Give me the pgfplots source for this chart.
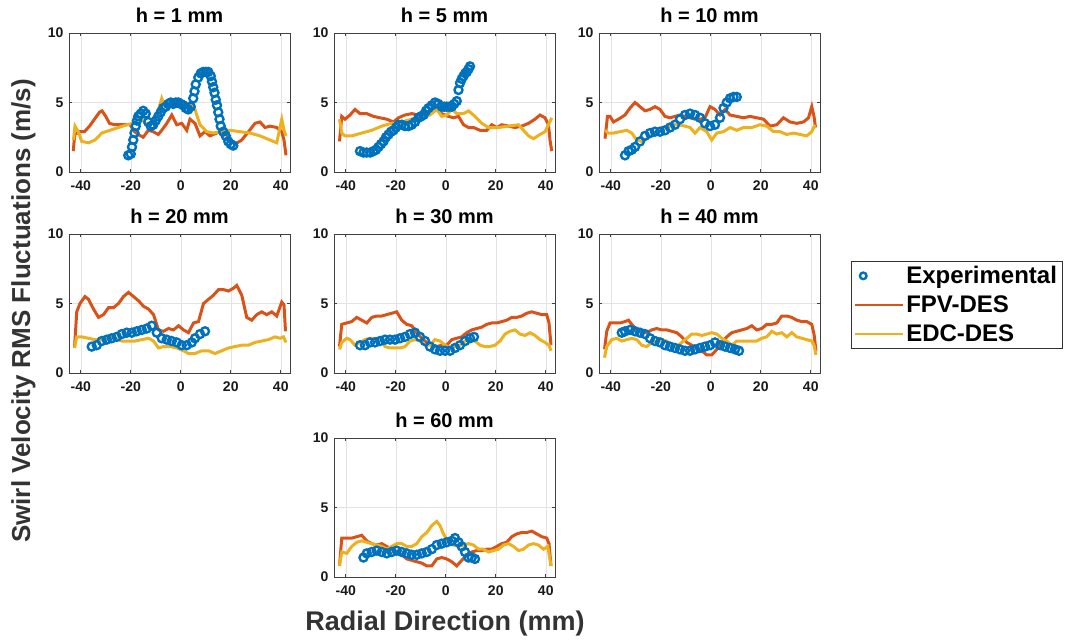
\documentclass[border=0pt]{standalone}
\usepackage{pgfplots}
\pgfplotsset{compat=1.18}
\usepackage{fontspec}
\setmainfont{Liberation Sans}
\definecolor{mblue}{HTML}{0072BD}
\definecolor{morange}{HTML}{D95319}
\definecolor{myellow}{HTML}{EDB120}
\pgfplotsset{
  panel/.style={
    scale only axis, width=221pt, height=139pt,
    xmin=-44.7, xmax=43.7, ymin=0, ymax=10,
    xtick={-40,-20,0,20,40}, ytick={0,5,10},
    grid=major, major grid style={color=gray!22, line width=0.5pt},
    axis line style={color=black!75, line width=0.6pt},
    tick style={color=black!75, line width=0.6pt},
    major tick length=3pt,
    tick align=inside,
    /pgf/number format/assume math mode=true,
    tick label style={font=\bfseries\fontsize{14}{16}\selectfont, color=black!90},
    xticklabel style={yshift=-5pt},
    yticklabel style={xshift=-2pt},
    title style={font=\bfseries\fontsize{20}{24}\selectfont, yshift=1pt},
    anchor=south west,
  },
  exp/.style={only marks, mark=o, mark size=4pt, line width=2.4pt, color=mblue},
  fpv/.style={no marks, line width=3pt, color=morange},
  edc/.style={no marks, line width=3pt, color=myellow},
  leg mark/.style={legend image code/.code={\draw[mark repeat=2,mark phase=2,mark size=3.3pt,##1] plot coordinates {(0pt,0pt) (8pt,0pt) (48pt,0pt)};}},
  leg line/.style={legend image code/.code={\draw[##1,line width=2pt] (0pt,0pt) -- (48pt,0pt);}},
}
\begin{document}
\begin{tikzpicture}
\path[use as bounding box] (0pt,0pt) rectangle (1065pt,641pt);

% h = 1 mm
\begin{axis}[panel, at={(69pt,469pt)}, title={h = 1 mm}]
\addplot[exp] coordinates {(-21,1.2)(-20,1.3)(-19.5,1.8)(-19,2.3)(-18.5,2.8)(-18,3.3)(-17.5,3.7)(-17,4.0)(-16,4.2)(-15,4.4)(-14,4.2)(-13,3.6)(-12,3.3)(-11,3.4)(-10,3.7)(-9,4.0)(-8,4.3)(-7,4.6)(-6,4.7)(-5,4.9)(-4,5.0)(-3,4.9)(-2,5.0)(-1,5.0)(0,4.9)(1,4.8)(2,4.6)(3,4.5)(4,4.7)(5,5.3)(5.5,5.8)(6,6.3)(7,6.8)(8,7.1)(9,7.2)(10,7.2)(11,7.2)(12,6.9)(12.5,6.5)(13,6.1)(13.5,5.7)(14,5.2)(14.5,4.8)(15,4.3)(15.5,3.8)(16,3.3)(17,2.9)(18,2.6)(19,2.2)(20,2.0)(21,1.9)};
\addplot[fpv] coordinates {(-43,1.5)(-42.4,2.7)(-40.5,2.9)(-38.5,2.9)(-36.5,3.3)(-34.5,3.8)(-32.5,4.3)(-31.5,4.4)(-30,4.0)(-28.5,3.5)(-26.5,3.4)(-24.5,3.4)(-22.5,3.4)(-20.3,3.4)(-18.5,2.9)(-17,2.7)(-15,2.5)(-13,3.0)(-11,2.9)(-9,2.7)(-7.6,3.0)(-5.6,3.5)(-3.6,4.1)(-1.6,3.4)(0.4,3.5)(2.4,3.0)(3.7,3.8)(5.7,3.5)(7.7,2.6)(9.7,2.9)(11.7,2.6)(14.4,2.8)(17.1,3.0)(19.7,2.3)(21.7,2.0)(24.4,2.3)(27.1,2.9)(29.7,3.5)(31.7,3.6)(33.7,3.2)(35.7,3.3)(38.4,3.2)(40.4,2.9)(41.3,2.3)(42.1,1.2)};
\addplot[edc] coordinates {(-42.9,2.3)(-42.3,3.3)(-41,2.9)(-39.6,2.2)(-36.9,2.1)(-34.3,2.3)(-31.6,2.8)(-28.3,3.0)(-24.9,3.2)(-21.6,3.4)(-18.9,3.5)(-17.6,3.9)(-15.6,3.9)(-14.3,3.5)(-12.9,3.3)(-10.9,3.6)(-8.9,4.5)(-7.6,5.3)(-6.3,4.7)(-4.3,5.0)(-1.6,4.7)(1.1,4.8)(3.7,5.0)(5.7,4.5)(7.7,3.4)(10.4,2.9)(13.1,2.8)(15.7,2.9)(19.7,3.0)(23.7,2.9)(27.7,2.8)(31.7,2.6)(35.7,2.3)(38.4,2.1)(40.4,3.8)(41.3,3.0)(42.1,2.6)};
\end{axis}

% h = 5 mm
\begin{axis}[panel, at={(334pt,469pt)}, title={h = 5 mm}]
\addplot[exp] coordinates {(-34.3,1.5)(-32.9,1.4)(-31.6,1.4)(-30.2,1.4)(-28.9,1.5)(-27.9,1.6)(-26.9,1.8)(-25.9,2.0)(-24.9,2.2)(-23.9,2.5)(-22.9,2.7)(-21.9,2.9)(-20.9,3.0)(-19.9,3.2)(-18.9,3.4)(-17.6,3.4)(-16.3,3.3)(-14.9,3.3)(-13.6,3.4)(-12.3,3.6)(-10.9,3.9)(-9.9,4.0)(-8.9,4.1)(-7.9,4.4)(-6.9,4.6)(-5.6,4.8)(-4.3,5.0)(-3,4.9)(-1.6,4.7)(-0.6,4.7)(0.4,4.7)(1.4,4.7)(2.4,4.7)(3.4,4.9)(4.4,5.1)(5.1,5.9)(5.7,6.4)(6.4,6.7)(7.1,6.9)(7.8,7.1)(8.4,7.2)(9.1,7.4)(9.7,7.6)};
\addplot[fpv] coordinates {(-42.5,2.2)(-41.6,4.0)(-40.3,3.8)(-38.3,4.1)(-36.3,4.5)(-34.3,4.2)(-31.6,4.2)(-28.9,4.0)(-26.3,3.9)(-23.6,3.8)(-20.9,3.6)(-18.9,3.9)(-16.3,4.1)(-13.6,4.2)(-10.9,4.1)(-8.3,4.2)(-5.6,4.5)(-3.6,4.5)(-1.6,4.2)(1.1,4.0)(3.1,3.9)(5.1,4.0)(7.1,3.4)(9.1,3.2)(11.1,3.2)(13.7,3.0)(16.4,3.0)(18.4,3.4)(20.4,3.2)(22.4,3.4)(25.1,3.3)(27.7,3.2)(30.4,3.3)(33.1,3.5)(35.7,3.8)(37.7,4.1)(39.7,3.9)(41.1,3.4)(41.7,2.3)(42.4,1.5)};
\addplot[edc] coordinates {(-42.5,3.8)(-41.6,2.8)(-40.3,2.6)(-37.6,2.6)(-33.6,2.8)(-29.6,3.0)(-25.6,3.3)(-21.6,3.5)(-17.6,3.6)(-13.6,3.8)(-9.6,3.9)(-6.3,4.1)(-3.6,4.5)(-1.6,4.0)(0.4,4.1)(2.4,4.5)(4.4,4.2)(7.1,4.2)(9.1,4.4)(11.7,4.0)(14.4,3.5)(17.1,3.2)(21.1,3.2)(25.1,3.3)(29.1,3.4)(31.1,3.0)(33.1,2.6)(35.1,2.4)(37.7,2.7)(39.7,2.9)(41.1,3.4)(42.4,3.9)};
\end{axis}

% h = 10 mm
\begin{axis}[panel, at={(599pt,469pt)}, title={h = 10 mm}]
\addplot[exp] coordinates {(-34.3,1.2)(-32.9,1.5)(-31.6,1.6)(-30.3,1.8)(-28.3,2.2)(-26.3,2.6)(-24.3,2.8)(-22.3,2.9)(-20.3,2.9)(-18.3,3.0)(-16.3,3.2)(-14.3,3.4)(-12.3,3.8)(-10.3,4.1)(-8.3,4.2)(-6.3,4.1)(-4.3,3.9)(-2.3,3.5)(-0.3,3.3)(1.7,3.4)(3.7,3.9)(5.1,4.6)(6.4,5.0)(7.7,5.3)(9.1,5.4)(10.4,5.4)};
\addplot[fpv] coordinates {(-42.3,2.4)(-41.3,4.0)(-40.3,4.0)(-38.9,3.6)(-36.9,3.8)(-34.3,4.1)(-32.3,4.6)(-30.3,5.0)(-28.3,4.7)(-26.3,4.4)(-24.3,4.5)(-22.3,4.7)(-20.3,4.5)(-18.3,4.0)(-16.3,3.9)(-14.3,4.0)(-12.3,4.1)(-10.3,4.0)(-8.3,3.9)(-6.3,3.8)(-4.3,3.8)(-2.3,3.9)(-0.3,4.7)(1.7,4.5)(3.7,4.1)(5.7,4.5)(7.7,4.1)(10.4,4.0)(13.1,3.9)(15.7,4.0)(18.4,3.9)(21.1,3.8)(23.7,3.3)(26.4,3.4)(29.1,3.9)(31.7,3.6)(34.4,3.5)(37.1,3.6)(39.1,3.9)(40.4,4.7)(41.3,4.0)(41.9,3.2)};
\addplot[edc] coordinates {(-42.3,3.0)(-41,2.8)(-38.9,2.8)(-36.3,2.9)(-33.6,3.0)(-31.6,2.8)(-29.6,2.3)(-27.6,2.2)(-25.6,2.4)(-22.9,2.7)(-20.3,2.9)(-17.6,3.2)(-14.9,3.4)(-12.9,3.4)(-10.3,3.3)(-8.3,3.2)(-6.3,2.8)(-4.3,3.2)(-1.6,2.9)(0.4,2.3)(2.4,2.8)(5.1,2.9)(7.7,3.2)(10.4,3.0)(13.1,3.2)(16.4,3.2)(19.7,3.4)(22.4,3.3)(25.1,2.9)(27.7,2.9)(30.4,2.7)(33.1,2.8)(35.7,2.7)(38.4,2.6)(40.4,2.9)(41.7,3.4)};
\end{axis}

% h = 20 mm
\begin{axis}[panel, at={(69pt,268pt)}, title={h = 20 mm}]
\addplot[exp] coordinates {(-35.6,1.9)(-33.6,2.0)(-31.6,2.3)(-29.6,2.4)(-27.6,2.5)(-25.6,2.6)(-23.6,2.8)(-21.6,2.9)(-19.6,2.9)(-17.6,3.0)(-15.6,3.1)(-13.6,3.2)(-11.6,3.4)(-9.6,2.9)(-7.6,2.5)(-5.6,2.4)(-3.6,2.3)(-1.6,2.2)(0.4,2.0)(2.4,2.0)(4.4,2.2)(5.7,2.5)(7.7,2.8)(9.7,3.0)};
\addplot[fpv] coordinates {(-42.5,1.8)(-41.6,4.4)(-40.3,5.0)(-38.3,5.5)(-36.9,5.3)(-34.9,4.6)(-32.9,4.0)(-30.9,4.2)(-28.9,4.7)(-26.9,4.7)(-24.9,5.0)(-22.9,5.5)(-20.9,5.8)(-18.9,5.5)(-16.9,5.2)(-14.9,4.8)(-12.9,4.6)(-10.9,4.2)(-8.9,3.1)(-6.9,3.0)(-4.9,3.2)(-2.9,3.1)(-0.9,3.4)(1.1,3.1)(3.1,2.9)(5.1,3.6)(7.1,3.7)(9.1,5.0)(11.1,5.3)(13.1,5.6)(15.1,6.0)(17.1,6.0)(19.1,5.9)(21.1,6.1)(22.4,6.3)(24.4,5.6)(26.4,4.0)(28.4,3.8)(30.4,4.2)(32.4,4.4)(34.4,4.2)(36.4,4.4)(38.4,4.1)(40.4,5.1)(41.3,4.9)(41.9,3.0)};
\addplot[edc] coordinates {(-42.5,1.8)(-41.6,2.6)(-39.6,2.6)(-36.9,2.5)(-34.3,2.4)(-31.6,2.4)(-28.9,2.6)(-26.3,2.5)(-23.6,2.3)(-20.9,2.3)(-18.3,2.3)(-15.6,2.4)(-12.9,2.5)(-10.9,2.3)(-8.9,1.8)(-6.9,1.9)(-4.3,1.9)(-1.6,1.8)(1.1,1.6)(3.1,1.4)(5.7,1.4)(8.4,1.6)(11.1,1.6)(13.7,1.4)(16.4,1.6)(19.1,1.8)(21.7,1.9)(24.4,2.0)(27.1,2.0)(29.7,2.2)(32.4,2.3)(35.1,2.4)(37.7,2.6)(39.7,2.5)(41.1,2.6)(42.1,2.2)};
\end{axis}

% h = 30 mm
\begin{axis}[panel, at={(334pt,268pt)}, title={h = 30 mm}]
\addplot[exp] coordinates {(-34.3,2.0)(-32.3,2.0)(-30.3,2.2)(-28.3,2.2)(-26.3,2.3)(-24.3,2.4)(-22.3,2.4)(-20.3,2.4)(-18.3,2.5)(-16.3,2.6)(-14.3,2.8)(-12.3,2.9)(-10.3,2.6)(-8.3,2.3)(-6.3,1.9)(-4.3,1.7)(-2.3,1.6)(-0.3,1.6)(1.7,1.6)(3.7,1.8)(5.7,2.0)(7.7,2.3)(9.7,2.5)(11.3,2.6)};
\addplot[fpv] coordinates {(-42.5,1.9)(-41.6,3.5)(-39.6,3.6)(-37.6,3.7)(-35.6,4.0)(-33.6,3.8)(-31.6,3.6)(-29.6,4.0)(-27.6,4.1)(-25.6,4.1)(-23.6,4.2)(-21.6,4.3)(-19.6,4.4)(-17.6,3.8)(-15.6,3.5)(-13.6,3.4)(-11.6,2.9)(-9.6,2.5)(-7.6,2.2)(-5.6,2.0)(-3.6,1.9)(-1.6,2.0)(0.4,2.0)(2.4,2.4)(4.4,2.5)(6.4,2.6)(8.4,2.9)(10.4,3.1)(12.4,3.2)(14.4,3.3)(16.4,3.5)(18.4,3.6)(20.4,3.6)(22.4,3.7)(24.4,3.8)(26.4,4.0)(28.4,4.0)(30.4,4.1)(32.4,4.3)(34.4,4.4)(36.4,4.3)(38.4,4.2)(40.4,4.2)(41.3,3.6)(42.1,2.0)};
\addplot[edc] coordinates {(-42.5,1.7)(-41.6,2.2)(-39.6,2.5)(-38.3,2.4)(-36.3,2.0)(-34.3,2.2)(-32.3,2.4)(-30.3,2.5)(-28.3,2.5)(-26.3,2.5)(-24.3,1.9)(-22.3,1.8)(-20.3,1.8)(-18.3,1.8)(-16.3,1.9)(-14.3,2.3)(-12.3,2.4)(-10.3,2.3)(-8.3,2.0)(-6.3,2.0)(-4.3,2.4)(-2.3,2.3)(-0.3,2.0)(1.7,1.8)(3.7,1.9)(5.7,2.0)(7.7,2.3)(9.7,2.5)(11.7,2.3)(13.7,2.0)(15.7,1.9)(17.5,1.9)(19.7,2.0)(21.7,2.3)(23.7,2.8)(25.7,3.0)(27.7,3.1)(29.7,2.8)(31.7,2.7)(33.7,2.9)(35.7,2.7)(37.7,2.4)(39.7,2.2)(41.3,2.0)(42.1,1.6)};
\end{axis}

% h = 40 mm (with legend)
\begin{axis}[panel, at={(599pt,268pt)}, title={h = 40 mm},
  legend style={at={(rel axis cs:1.14,0.805)}, anchor=north west,
    draw=black!80, line width=0.6pt, fill=white,
    font=\bfseries\fontsize{24}{28}\selectfont,
    inner xsep=3pt, inner ysep=3pt, row sep=6.5pt,
    cells={anchor=west}},
  ]
\addplot[exp, leg mark] coordinates {(-35.6,2.9)(-34.3,3.0)(-32.3,3.1)(-30.3,3.0)(-28.3,2.9)(-26.3,2.8)(-24.3,2.5)(-22.3,2.3)(-20.3,2.2)(-18.3,2.0)(-16.3,1.9)(-14.3,1.8)(-12.3,1.7)(-10.3,1.6)(-8.3,1.6)(-6.3,1.7)(-4.3,1.8)(-2.3,1.9)(-0.3,2.0)(1.7,2.2)(3.7,2.0)(5.7,1.9)(7.7,1.8)(9.7,1.7)(11.3,1.6)};
\addlegendentry{Experimental}
\addplot[fpv, leg line] coordinates {(-42.5,1.7)(-41.6,3.0)(-40.3,3.6)(-38.3,3.6)(-36.3,3.6)(-34.3,3.7)(-32.9,3.8)(-31.6,3.5)(-29.6,3.1)(-27.6,3.0)(-25.6,2.9)(-23.6,3.1)(-21.6,3.2)(-19.6,3.1)(-17.6,3.1)(-15.6,3.0)(-13.6,2.9)(-11.6,2.6)(-9.6,2.2)(-7.6,2.0)(-5.6,1.8)(-3.6,1.6)(-1.6,1.3)(0.4,1.3)(2.4,1.7)(4.4,2.2)(6.4,2.6)(8.4,2.9)(10.4,3.0)(12.4,3.1)(14.4,3.2)(16.4,3.4)(18.4,3.1)(20.4,3.2)(22.4,3.5)(24.4,3.5)(26.4,3.6)(28.4,4.1)(30.4,4.1)(32.4,4.0)(34.4,3.8)(36.4,3.7)(38.4,3.7)(40.4,3.5)(41.3,2.8)(42.1,1.6)};
\addlegendentry{FPV-DES}
\addplot[edc, leg line] coordinates {(-42.5,1.1)(-41.6,1.9)(-39.6,2.4)(-37.6,2.5)(-35.6,2.3)(-33.6,2.4)(-31.6,2.5)(-29.6,2.4)(-27.6,2.0)(-25.6,1.9)(-23.6,2.2)(-21.6,2.3)(-19.6,2.4)(-17.6,2.3)(-15.6,2.0)(-13.6,1.9)(-11.6,2.2)(-9.6,2.5)(-7.6,2.8)(-5.6,2.8)(-3.6,2.7)(-1.6,2.8)(0.4,2.9)(2.4,2.8)(4.4,2.5)(6.4,2.3)(8.4,2.0)(10.4,2.3)(12.4,2.3)(14.4,2.3)(16.4,2.3)(18.4,2.3)(20.4,2.5)(22.4,2.6)(24.4,3.0)(26.4,2.8)(28.4,2.9)(30.4,2.6)(32.4,2.9)(34.4,2.6)(36.4,2.5)(38.4,2.4)(40.4,2.3)(41.3,2.0)(42.1,1.3)};
\addlegendentry{EDC-DES}
\end{axis}

% h = 60 mm
\begin{axis}[panel, at={(334pt,64pt)}, title={h = 60 mm}]
\addplot[exp] coordinates {(-32.9,1.4)(-31.6,1.7)(-29.6,1.8)(-27.6,1.9)(-25.6,1.8)(-23.6,1.7)(-21.6,1.8)(-19.6,1.9)(-17.6,1.8)(-15.6,1.7)(-13.6,1.6)(-11.6,1.6)(-9.6,1.7)(-7.6,1.8)(-5.6,2.0)(-3.6,2.3)(-1.6,2.4)(0.4,2.5)(2.4,2.6)(3.7,2.8)(5.1,2.5)(6.4,2.2)(7.7,1.8)(9.1,1.4)(10.4,1.4)(11.7,1.3)};
\addplot[fpv] coordinates {(-42.5,0.8)(-41.6,2.8)(-39.6,2.8)(-37.6,2.8)(-35.6,2.9)(-33.6,3.0)(-31.6,2.6)(-29.6,2.4)(-27.6,2.3)(-25.6,2.4)(-23.6,2.2)(-21.6,2.0)(-19.6,1.8)(-17.6,1.6)(-15.6,1.3)(-13.6,1.2)(-11.6,1.1)(-9.6,1.0)(-7.6,0.8)(-5.6,0.8)(-3.6,1.3)(-1.6,1.4)(0.4,1.3)(2.4,1.1)(4.4,0.8)(6.4,1.2)(8.4,1.6)(10.4,1.8)(12.4,1.9)(14.4,1.9)(16.4,2.0)(18.4,2.0)(20.4,2.2)(22.4,2.4)(24.4,2.5)(26.4,2.9)(28.4,3.1)(30.4,3.2)(32.4,3.2)(34.4,3.3)(36.4,3.1)(38.4,2.9)(40.4,2.8)(41.3,2.4)(42.1,0.8)};
\addplot[edc] coordinates {(-42.5,0.8)(-41.6,1.8)(-39.6,1.7)(-37.6,2.2)(-35.6,2.5)(-33.6,2.6)(-31.6,2.5)(-29.6,2.4)(-27.6,2.3)(-25.6,2.2)(-23.6,2.0)(-21.6,2.2)(-19.6,2.4)(-17.6,2.4)(-15.6,2.2)(-13.6,2.2)(-11.6,2.4)(-9.6,2.9)(-7.6,3.2)(-5.6,3.7)(-3.6,4.0)(-2.3,3.7)(-0.9,3.1)(1.1,2.5)(3.1,2.3)(5.1,2.2)(7.1,2.3)(9.1,2.4)(11.1,2.3)(13.1,2.0)(15.1,2.0)(17.1,1.8)(19.1,1.9)(21.1,2.0)(23.1,2.3)(25.1,2.4)(27.1,2.2)(29.1,1.9)(31.1,2.0)(33.1,2.3)(35.1,2.4)(37.1,2.3)(39.1,2.0)(40.8,2.2)(42.1,0.8)};
\end{axis}

\node[font=\bfseries\fontsize{27}{32}\selectfont, color=black!80, anchor=base] at (445pt,11pt) {Radial Direction (mm)};
\node[font=\bfseries\fontsize{26}{31}\selectfont, color=black!80, anchor=base, rotate=90] at (30pt,330pt) {Swirl Velocity RMS Fluctuations (m/s)};
\end{tikzpicture}
\end{document}
